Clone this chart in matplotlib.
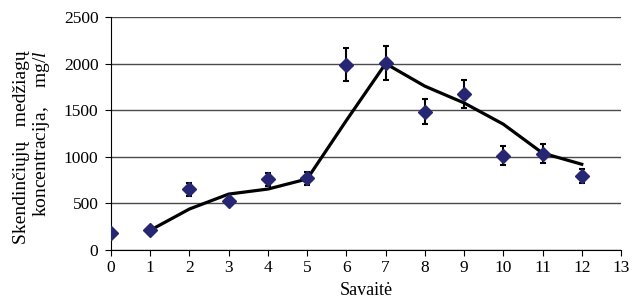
import matplotlib
matplotlib.use("Agg")
import matplotlib.pyplot as plt

plt.rcParams["font.family"] = ["Liberation Serif", "DejaVu Serif"]
plt.rcParams["mathtext.fontset"] = "custom"
plt.rcParams["mathtext.it"] = "Liberation Serif:italic"
plt.rcParams["mathtext.rm"] = "Liberation Serif"

weeks = [0, 1, 2, 3, 4, 5, 6, 7, 8, 9, 10, 11, 12]
measured = [178, 212, 651, 528, 759, 770, 1990, 2006, 1482, 1672, 1012, 1032, 790]
errors = [0, 0, 70, 0, 72, 68, 180, 185, 135, 150, 100, 100, 75]

model_weeks = [1, 2, 3, 4, 5, 6, 7, 8, 9, 10, 11, 12]
model = [212, 440, 600, 654, 762, 1390, 2000, 1758, 1578, 1350, 1040, 920]

fig = plt.figure(figsize=(6.32, 3.05), dpi=100)
ax = fig.add_axes([0.1756, 0.1803, 0.807, 0.764])

ax.set_axisbelow(True)
ax.yaxis.grid(True, color="#4a4a4a", linewidth=1.0)

ax.plot(model_weeks, model, color="black", linewidth=2.3, zorder=3)
ax.errorbar(weeks, measured, yerr=errors, fmt="D", color="#262673",
            markersize=6.8, ecolor="black", elinewidth=1.5, capsize=2.5,
            capthick=1.5, zorder=4)

ax.set_xlim(0, 13)
ax.set_ylim(0, 2500)
ax.set_xticks(range(0, 14))
ax.set_yticks(range(0, 2501, 500))

for side in ("top", "right"):
    ax.spines[side].set_visible(False)
ax.tick_params(axis="both", labelsize=12.5, direction="out", length=4,
               color="black")
ax.tick_params(axis="y", pad=5)

ax.set_xlabel("Savaitė", fontsize=13, labelpad=4)

# two-line y label, both lines ending at the same height
top = 1 - 50 / 305
fig.text(22 / 632, top, "Skendinčiųjų   medžiagų", rotation=90,
         fontsize=14, ha="center", va="top")
fig.text(42 / 632, top, "koncentracija,    mg/$\\it{l}$", rotation=90,
         fontsize=14, ha="center", va="top")

fig.savefig("out.png", dpi=100)
